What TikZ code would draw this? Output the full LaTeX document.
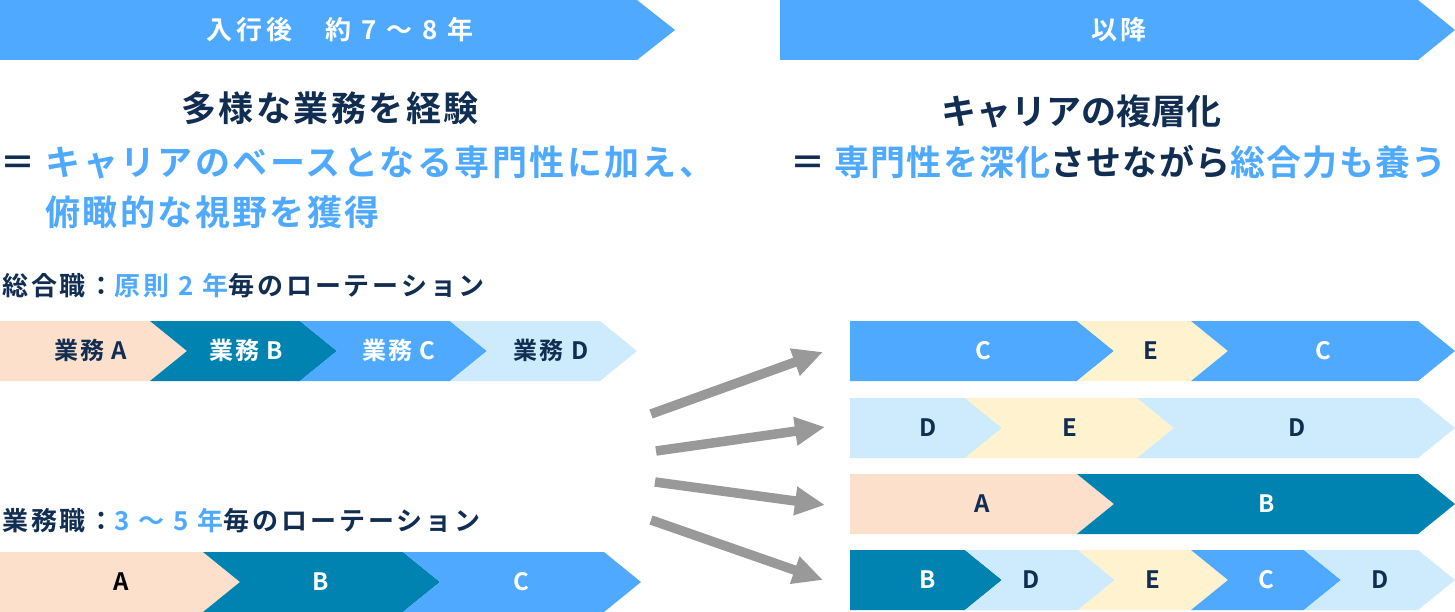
\documentclass[tikz,border=0pt]{standalone}
\usepackage{fontspec}
\setmainfont{Noto Sans CJK JP}[BoldFont={Noto Sans CJK JP Bold}]
\usetikzlibrary{arrows.meta}
\definecolor{navy}{HTML}{112D52}
\definecolor{sky}{HTML}{4FAAFF}
\definecolor{teal}{HTML}{0083B1}
\definecolor{pale}{HTML}{CDEBFD}
\definecolor{peach}{HTML}{FDE0CC}
\definecolor{cream}{HTML}{FFF2CF}
\definecolor{arrowgray}{HTML}{999999}
\newcommand{\chev}[5]{%
  \fill[#4] (#1,#3) -- (#2,#3) -- ({#2+37},{#3+30}) -- (#2,{#3+60}) -- (#1,{#3+60}) -- ({#1+#5},{#3+30}) -- cycle;}
\begin{document}
\begin{tikzpicture}[x=1pt,y=-1pt,
  txt/.style={inner sep=0pt,font=\bfseries},
  hdr/.style={txt,anchor=base,text=white,font=\bfseries\fontsize{26}{30}\selectfont\addfontfeature{LetterSpace=15}},
  ttl/.style={txt,font=\bfseries\fontsize{35}{40}\selectfont\addfontfeature{LetterSpace=7}},
  ttlr/.style={txt,font=\bfseries\fontsize{35}{40}\selectfont\addfontfeature{LetterSpace=3.5}},
  ttlz/.style={txt,font=\bfseries\fontsize{35}{40}\selectfont},
  sec/.style={txt,anchor=base west,text=navy,font=\bfseries\fontsize{26}{30}\selectfont\addfontfeature{LetterSpace=11}},
  lbl/.style={txt,anchor=base,font=\bfseries\fontsize{24}{28}\selectfont\addfontfeature{LetterSpace=8}},
  dk/.style={lbl,text=navy},
  wt/.style={lbl,text=white},
  arr/.style={line width=9.5pt,draw=arrowgray,-{Triangle[length=30pt,width=27pt]}}]
\useasboundingbox (0,0) rectangle (1455,612);
% header bars
\fill[sky] (0,0) -- (637,0) -- (675,30) -- (637,60) -- (0,60) -- cycle;
\fill[sky] (780,0) -- (1418,0) -- (1455,30) -- (1418,60) -- (780,60) -- cycle;
\node[hdr] (h1) at (340,40) {入行後　約 7 〜 8 年};
\node[hdr] (h2) at (1119,40) {以降};
% titles
\node[ttl,anchor=base,text=navy] (t1) at (330,122) {多様な業務を経験};
\node[ttl,anchor=base west,text=navy] (t2) at (0,176) {＝ \textcolor{sky}{キャリアのベースとなる専門性に加え、}};
\node[ttl,anchor=base west,text=sky] (t3) at (45,226) {俯瞰的な視野を獲得};
\node[ttlz,anchor=base,text=navy] (t4) at (1081,125) {キャリアの複層化};
\node[ttlr,anchor=base west,text=navy] (t5) at (790,176) {＝ \textcolor{sky}{専門性を深化}させながら\textcolor{sky}{総合力も養う}};
% section labels
\node[sec] (s1) at (2,295) {総合職：\textcolor{sky}{原則 2 年}毎のローテーション};
\node[sec] (s2) at (2,530) {業務職：\textcolor{sky}{3 〜 5 年}毎のローテーション};
% left row 1
\chev{0}{150}{321}{peach}{0}
\chev{150}{300}{321}{teal}{37}
\chev{300}{450}{321}{sky}{37}
\chev{450}{600}{321}{pale}{37}
\node[dk] (l1a) at (91,359) {業務 A};
\node[wt] (l1b) at (246,359) {業務 B};
\node[wt] (l1c) at (399,359) {業務 C};
\node[dk] (l1d) at (551,359) {業務 D};
% left row 2
\chev{0}{203}{552}{peach}{0}
\chev{203}{403}{552}{teal}{37}
\chev{403}{604}{552}{sky}{37}
\node[lbl,text=black] (l2a) at (121,590) {A};
\node[wt] (l2b) at (321,590) {B};
\node[wt] (l2c) at (521,590) {C};
% right row 1
\chev{850}{1077}{321}{sky}{0}
\chev{1077}{1191}{321}{cream}{37}
\chev{1191}{1418}{321}{sky}{37}
\node[wt] (r1a) at (983,359) {C};
\node[dk] (r1b) at (1151,359) {E};
\node[wt] (r1c) at (1323,359) {C};
% right row 2
\chev{850}{965}{398}{pale}{0}
\chev{965}{1137}{398}{cream}{37}
\chev{1137}{1418}{398}{pale}{37}
\node[dk] (r2a) at (928,436) {D};
\node[dk] (r2b) at (1070,436) {E};
\node[dk] (r2c) at (1297,436) {D};
% right row 3
\chev{850}{1077}{474}{peach}{0}
\chev{1077}{1418}{474}{teal}{37}
\node[dk] (r3a) at (982,512) {A};
\node[wt] (r3b) at (1267,512) {B};
% right row 4
\chev{850}{965}{550}{teal}{0}
\chev{965}{1078}{550}{pale}{37}
\chev{1078}{1191}{550}{cream}{37}
\chev{1191}{1304}{550}{sky}{37}
\chev{1304}{1418}{550}{pale}{37}
\node[wt] (r4a) at (928,588) {B};
\node[dk] (r4b) at (1031,588) {D};
\node[dk] (r4c) at (1153,588) {E};
\node[wt] (r4d) at (1266,588) {C};
\node[dk] (r4e) at (1380,588) {D};
% arrows
\coordinate (a1s) at (651,414); \coordinate (a1e) at (823,352);
\coordinate (a2s) at (656,451); \coordinate (a2e) at (825,427);
\coordinate (a3s) at (655,482); \coordinate (a3e) at (825,505);
\coordinate (a4s) at (651,520); \coordinate (a4e) at (823,580);
\draw[arr] (a1s) -- (a1e);
\draw[arr] (a2s) -- (a2e);
\draw[arr] (a3s) -- (a3e);
\draw[arr] (a4s) -- (a4e);
\end{tikzpicture}
\end{document}
